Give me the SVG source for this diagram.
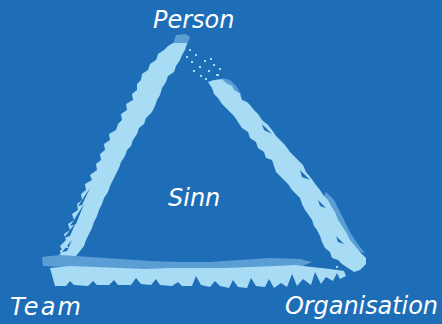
<svg xmlns="http://www.w3.org/2000/svg" width="442" height="324" viewBox="0 0 442 324">
<style>
.bg{fill:#1e6eb7}
.lt{fill:#a8dbf4}
.md{fill:#5b9ed6}
.dk{fill:#1e6eb7}
.lbl{font-family:"DejaVu Sans","Liberation Sans",sans-serif;font-style:italic;font-size:24px;fill:#ffffff}
</style>
<rect class="bg" x="0" y="0" width="442" height="324"/>
<g id="connectors">
  <!-- left edge -->
  <path class="md" d="M173,44 L176,35 L186,34 L190,37 L187,45 Z"/>
  <path class="lt" d="M173,43 L187,43 L185,50 L182,55 L180,60 L176,66 L174,72 L168,76 L166,82 L162,88 L160,95 L157,100 L155,106 L152,112 L146,118 L144,124 L139,128 L137,134 L133,140 L131,146 L127,150 L125,156 L121,162 L119,168 L116,174 L113,180 L110,186 L108,192 L104,198 L102,204 L99,210 L97,216 L94,222 L92,228 L89,234 L86,240 L84,246 L80,251 L76,256 L70,258 L64,256 L58,258 L62,250 L60,246 L66,240 L64,234 L70,230 L68,224 L74,220 L72,214 L78,210 L77,204 L82,200 L81,194 L86,190 L85,184 L92,180 L90,175 L97,170 L96,164 L101,160 L100,154 L105,150 L104,144 L110,140 L109,134 L116,130 L118,124 L122,120 L121,114 L127,110 L126,104 L133,100 L132,94 L137,90 L137,84 L141,80 L142,74 L148,70 L150,64 L156,60 L158,54 L164,50 L168,46 Z"/>
  <path class="dk" d="M64,238 L76,222 L70,236 Z M70,226 L84,204 L76,224 Z M78,206 L90,188 L82,205 Z M62,252 L72,240 L67,251 Z"/>
  <!-- right edge -->
  <path class="md" d="M326,192 L334,200 L338,208 L342,216 L346,224 L350,232 L355,240 L360,247 L365,253 L352,250 L340,230 L330,210 L322,200 Z"/>
  <path class="md" d="M222,78 L230,80 L236,86 L240,92 L232,90 L226,86 Z"/>
  <path class="lt" d="M208,82 L214,80 L222,79 L226,83 L232,86 L234,90 L240,93 L243,97 L246,101 L250,105 L254,110 L258,114 L262,120 L268,125 L272,130 L276,136 L280,140 L285,145 L290,152 L296,158 L303,165 L306,172 L311,178 L316,185 L320,190 L324,196 L328,200 L331,206 L335,212 L338,220 L342,226 L346,232 L350,240 L355,246 L360,252 L366,258 L366,264 L360,270 L354,272 L348,268 L342,264 L338,260 L332,258 L330,252 L325,248 L322,242 L320,236 L317,230 L314,226 L312,220 L308,214 L305,210 L302,204 L300,198 L296,194 L292,190 L288,184 L284,180 L280,176 L276,172 L274,166 L272,160 L266,158 L264,152 L258,148 L256,142 L250,138 L248,132 L242,128 L238,122 L234,116 L230,112 L226,108 L222,104 L218,98 L214,94 L212,88 Z"/>
  <path class="dk" d="M240,94 L252,104 L242,100 Z M262,124 L272,134 L264,130 Z M300,170 L310,180 L302,177 Z M318,200 L326,208 L320,206 Z M336,236 L344,244 L338,242 Z"/>
  <!-- spray near apex -->
  <g class="lt">
    <rect x="186" y="56" width="2" height="2"/><rect x="191" y="61" width="2" height="2"/><rect x="195" y="54" width="2" height="2"/>
    <rect x="199" y="66" width="2" height="2"/><rect x="204" y="60" width="2" height="2"/><rect x="208" y="70" width="2" height="2"/>
    <rect x="213" y="64" width="2" height="2"/><rect x="200" y="75" width="2" height="2"/><rect x="216" y="74" width="3" height="2"/>
    <rect x="193" y="70" width="2" height="2"/><rect x="210" y="58" width="2" height="2"/><rect x="205" y="78" width="2" height="2"/>
    <rect x="189" y="49" width="2" height="2"/><rect x="219" y="68" width="2" height="2"/>
    <rect x="66" y="246" width="2" height="2"/><rect x="72" y="242" width="2" height="2"/><rect x="60" y="250" width="2" height="2"/>
    <rect x="300" y="274" width="2" height="2"/><rect x="318" y="270" width="2" height="2"/><rect x="336" y="266" width="2" height="2"/>
  </g>
  <!-- bottom edge -->
  <path class="md" d="M42,257 L60,255 L90,257 L120,259 L150,261 L180,262 L210,262 L240,260 L270,258 L300,259 L312,262 L300,267 L200,269 L100,269 L43,266 Z"/>
  <path class="lt" d="M50,268 L70,266 L95,267 L120,268 L145,269 L170,268 L200,268 L225,268 L250,267 L275,266 L295,265 L312,267 L330,269 L344,271 L346,276 L340,279 L337,273 L333,281 L326,277 L321,284 L315,272 L311,285 L303,279 L297,286 L292,274 L287,287 L281,283 L274,288 L269,279 L265,287 L256,286 L251,278 L247,288 L238,287 L233,280 L229,288 L220,286 L215,281 L210,287 L201,285 L196,276 L192,286 L182,286 L178,282 L172,286 L160,285 L156,279 L151,285 L141,284 L136,278 L131,285 L118,285 L114,280 L109,285 L97,285 L93,281 L88,286 L74,285 L70,281 L66,286 L55,286 Z"/>
</g>
<g id="person"><text class="lbl" x="153" y="28">Person</text></g>
<g id="sinn"><text class="lbl" x="168" y="206">Sinn</text></g>
<g id="team"><text class="lbl" x="10" y="315" textLength="71" lengthAdjust="spacing">Team</text></g>
<g id="organisation"><text class="lbl" x="285" y="314" textLength="153" lengthAdjust="spacing">Organisation</text></g>
</svg>
